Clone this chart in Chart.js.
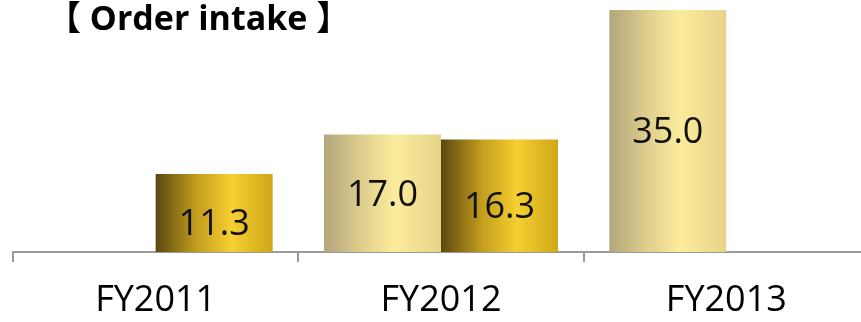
<!DOCTYPE html>
<html>
<head>
<meta charset="utf-8">
<script src="https://cdn.jsdelivr.net/npm/chart.js@4/dist/chart.umd.min.js"></script>
<style>
  body { margin: 0; background: #fff; overflow: hidden; }
  #wrap { position: relative; width: 861px; height: 322px; overflow: hidden; }
  #title {
    position: absolute; left: 47px; top: -9px;
    font: bold 34px "Open Sans", "Noto Sans CJK JP", sans-serif;
    color: #000; white-space: pre;
  }
</style>
</head>
<body>
<div id="wrap">
  <canvas id="chart" width="869" height="322"></canvas>
  <div id="title">【 Order intake 】</div>
</div>
<script>
const years = ["FY2011", "FY2012", "FY2013"];
const forecast = [null, 17.0, 35.0];
const actual = [11.3, 16.3, null];

// horizontal "cylinder" shading for each bar
const lightStops = [[0, "#b3a67c"], [0.3, "#dccb8c"], [0.6, "#fcec9c"], [1, "#e6d489"]];
const darkStops = [[0, "#5a4810"], [0.35, "#c39d1e"], [0.65, "#f6cf31"], [1, "#cfa618"]];

const shading = {
  id: "shading",
  beforeDatasetsDraw(chart) {
    const ctx = chart.ctx;
    chart.data.datasets.forEach((ds, i) => {
      chart.getDatasetMeta(i).data.forEach(bar => {
        const left = bar.x - bar.width / 2;
        const g = ctx.createLinearGradient(left, 0, left + bar.width, 0);
        ds.stops.forEach(s => g.addColorStop(s[0], s[1]));
        // resolved options are shared between bars, so give each its own copy
        bar.options = Object.assign({}, bar.options, { backgroundColor: g });
      });
    });
  }
};

const valueLabels = {
  id: "valueLabels",
  afterDatasetsDraw(chart) {
    const ctx = chart.ctx;
    ctx.save();
    ctx.font = '36px "Open Sans"';
    ctx.fillStyle = "#111";
    ctx.textAlign = "center";
    ctx.textBaseline = "middle";
    chart.data.datasets.forEach((ds, i) => {
      chart.getDatasetMeta(i).data.forEach((bar, j) => {
        const v = ds.data[j];
        if (v == null) return;
        ctx.fillText(v.toFixed(1), bar.x, (bar.y + bar.base) / 2 + ds.labelShift);
      });
    });
    ctx.restore();
  }
};

new Chart(document.getElementById("chart"), {
  type: "bar",
  data: {
    labels: years,
    datasets: [
      { label: "Forecast", data: forecast, stops: lightStops, labelShift: 2 },
      { label: "Actual", data: actual, stops: darkStops, labelShift: 12 }
    ]
  },
  options: {
    responsive: false,
    animation: false,
    layout: { padding: { left: 13, right: 0, top: 0, bottom: -18 } },
    datasets: { bar: { barPercentage: 1, categoryPercentage: 0.82 } },
    plugins: { legend: { display: false }, tooltip: { enabled: false } },
    scales: {
      y: { display: false, min: 0, max: 36.46 },
      x: {
        border: { display: true, color: "#9a9a9a", width: 2 },
        grid: { drawOnChartArea: false, tickLength: 10, color: "#9a9a9a", lineWidth: 2 },
        ticks: {
          color: "#000", padding: 15, maxRotation: 0, autoSkip: false,
          font: { family: "Open Sans", size: 36, lineHeight: 1.33 }
        }
      }
    }
  },
  plugins: [shading, valueLabels]
});
</script>
</body>
</html>
